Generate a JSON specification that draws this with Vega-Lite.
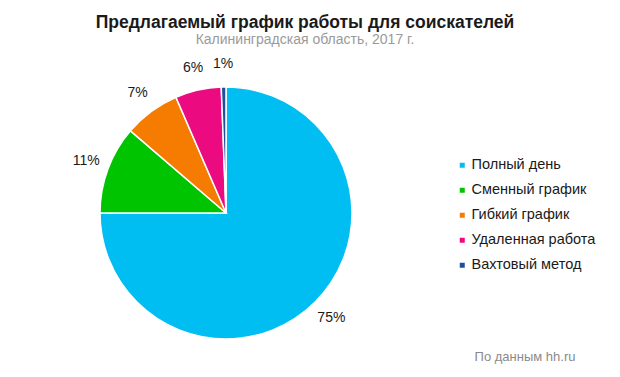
{
  "$schema": "https://vega.github.io/schema/vega-lite/v6.json",
  "autosize": "none",
  "width": 452,
  "height": 326,
  "padding": {"left": 0, "top": 50, "right": 168, "bottom": 1},
  "background": "white",
  "config": {"font": "Liberation Sans", "view": {"stroke": null}},
  "title": {
    "text": "Предлагаемый график работы для соискателей",
    "subtitle": "Калининградская область, 2017 г.",
    "anchor": "middle",
    "dx": 79,
    "offset": 3,
    "fontSize": 17.5,
    "fontWeight": "bold",
    "color": "#1a1a1a",
    "subtitleFontSize": 14,
    "subtitleColor": "#9a9a9a",
    "subtitlePadding": 2
  },
  "data": {
    "values": [
      {"idx": 1, "type": "Полный день", "value": 75, "label": "75%"},
      {"idx": 2, "type": "Сменный график", "value": 11.3, "label": "11%"},
      {"idx": 3, "type": "Гибкий график", "value": 7.2, "label": "7%"},
      {"idx": 4, "type": "Удаленная работа", "value": 5.9, "label": "6%"},
      {"idx": 5, "type": "Вахтовый метод", "value": 0.6, "label": "1%"}
    ]
  },
  "encoding": {
    "theta": {"field": "value", "type": "quantitative", "stack": true},
    "order": {"field": "idx", "type": "quantitative"}
  },
  "layer": [
    {
      "mark": {"type": "arc", "outerRadius": 126, "stroke": "white", "strokeWidth": 1.5},
      "encoding": {
        "color": {
          "field": "type",
          "type": "nominal",
          "scale": {
            "domain": ["Полный день", "Сменный график", "Гибкий график", "Удаленная работа", "Вахтовый метод"],
            "range": ["#00BEF2", "#00C400", "#F57C00", "#EC0A80", "#1F4E9A"]
          },
          "legend": {
            "orient": "none",
            "legendX": 455,
            "legendY": 108,
            "title": "По данным hh.ru",
            "titleOrient": "bottom",
            "titleAnchor": "middle",
            "titlePadding": 79,
            "titleFontSize": 13,
            "titleFontWeight": "normal",
            "titleColor": "#8a8a8a",
            "symbolType": "square",
            "symbolSize": 25,
            "symbolStrokeWidth": 0,
            "labelFontSize": 14.5,
            "labelColor": "#1a1a1a",
            "labelOffset": 2,
            "rowPadding": 10
          }
        }
      }
    },
    {
      "mark": {"type": "text", "radius": 149, "fontSize": 14, "color": "#1a1a1a"},
      "encoding": {"text": {"field": "label"}}
    }
  ]
}
